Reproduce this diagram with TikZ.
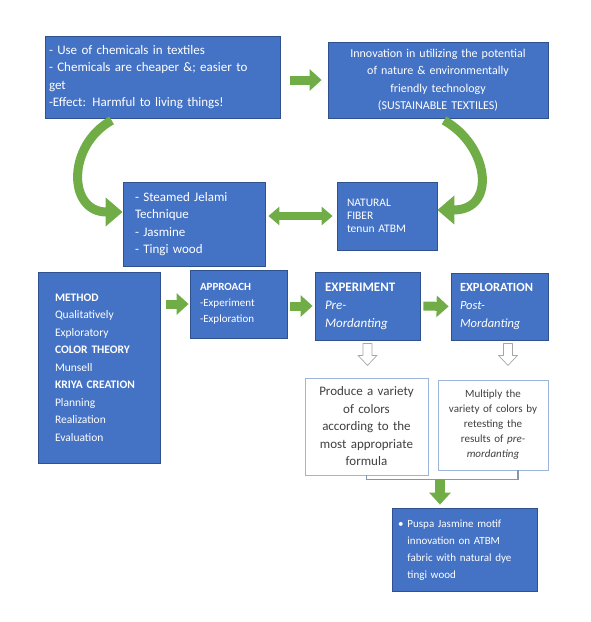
\documentclass[tikz,border=0pt]{standalone}
\usepackage{fontspec}
\setmainfont{Carlito}
\usetikzlibrary{arrows.meta,calc}
\definecolor{boxblue}{HTML}{4472C4}
\definecolor{boxedge}{HTML}{2F528F}
\definecolor{arrowgreen}{HTML}{70AD47}
\definecolor{paleedge}{HTML}{9DB5DC}
\definecolor{darktext}{HTML}{404040}
\definecolor{bracketline}{HTML}{8497B0}
\definecolor{hollowedge}{HTML}{A6A6A6}
\newcommand\hollowdown[1]{\draw[hollowedge, fill=white, line width=0.7pt, line join=round]
  (#1) ++(-4.5,0) -- ++(0,12) -- ++(-5,0) -- ++(9.5,10) -- ++(9.5,-10) -- ++(-5,0) -- ++(0,-12) -- cycle;}

\begin{document}
\begin{tikzpicture}[x=1pt,y=-1pt,
  bluebox/.style={draw=boxedge, fill=boxblue, text=white, line width=0.8pt, inner ysep=0pt, align=left, font=\fontsize{13}{17.5}\selectfont},
  whitebox/.style={draw=paleedge, fill=white, text=darktext, line width=0.8pt, inner ysep=0pt, align=center, font=\fontsize{13}{17.5}\selectfont},
  greenarrow/.style={draw=arrowgreen, line width=9pt, -{Triangle[length=12pt,width=21pt]}},
  curvearrow/.style={draw=arrowgreen, line width=9pt, -{Triangle[length=17pt,width=28pt]}},
  bothways/.style={draw=arrowgreen, line width=8pt, {Triangle[length=11pt,width=18pt]}-{Triangle[length=11pt,width=18pt]}},
  bracket/.style={draw=bracketline, line width=1.2pt}]
\useasboundingbox (0,0) rectangle (591,622);
% top row
\node[bluebox, minimum width=235pt, minimum height=82pt, inner xsep=4pt, text width=227pt] (chem) at (162.5,77)
  {- Use of chemicals in textiles\\- Chemicals are cheaper \&; easier to\\get\\-Effect: Harmful to living things!};
\node[bluebox, align=center, minimum width=220pt, minimum height=76pt, inner xsep=4pt, text width=212pt, font=\fontsize{12}{17.5}\selectfont] (innov) at (438,80)
  {Innovation in utilizing the potential\\of nature \& environmentally\\friendly technology\\(SUSTAINABLE TEXTILES)};
% second row
\node[bluebox, minimum width=142pt, minimum height=84pt, inner xsep=12pt, text width=118pt] (steam) at (194,224)
  {- Steamed Jelami\\Technique\\- Jasmine\\- Tingi wood};
\node[bluebox, minimum width=100pt, minimum height=68pt, inner xsep=10pt, text width=80pt, font=\fontsize{11.5}{13}\selectfont] (fiber) at (387,216)
  {NATURAL\\FIBER\\tenun ATBM};
% third row
\node[bluebox, minimum width=122pt, minimum height=191pt, inner xsep=17pt, text width=88pt, font=\fontsize{11.5}{17.5}\selectfont] (method) at (99,367.5)
  {\textbf{METHOD}\\Qualitatively\\Exploratory\\\textbf{COLOR THEORY}\\Munsell\\\textbf{KRIYA CREATION}\\Planning\\Realization\\Evaluation};
\node[bluebox, minimum width=97pt, minimum height=68pt, inner xsep=10pt, text width=77pt, font=\fontsize{11}{16}\selectfont] (approach) at (238.5,304)
  {\textbf{APPROACH}\\-Experiment\\-Exploration};
\node[bluebox, minimum width=105pt, minimum height=68pt, inner xsep=10pt, text width=85pt, font=\fontsize{13}{18}\selectfont] (experiment) at (367.5,306)
  {\textbf{EXPERIMENT}\\\textit{Pre-}\\\textit{Mordanting}};
\node[bluebox, minimum width=97pt, minimum height=67pt, inner xsep=9pt, text width=79pt, font=\fontsize{12.5}{18}\selectfont] (explore) at (499.5,306.5)
  {\textbf{EXPLORATION}\\\textit{Post-}\\\textit{Mordanting}};
% results
\node[whitebox, minimum width=123pt, minimum height=97pt, inner xsep=4pt, text width=115pt] (produce) at (366.5,426.5)
  {Produce a variety\\of colors\\according to the\\most appropriate\\formula};
\node[whitebox, minimum width=110pt, minimum height=90pt, inner xsep=3pt, text width=104pt, font=\fontsize{11}{15}\selectfont] (multiply) at (493,425)
  {Multiply the\\variety of colors by\\retesting the\\results of \textit{pre-}\\\textit{mordanting}};
\node[bluebox, minimum width=145pt, minimum height=83pt, inner xsep=6pt, text width=133pt, font=\fontsize{11}{17}\selectfont] (motif) at (464.5,549.5)
  {\begin{tabular}{@{}l@{\hspace{4pt}}l@{}}\textbullet & Puspa Jasmine motif\\ & innovation on ATBM\\ & fabric with natural dye\\ & tingi wood\end{tabular}};
% connectors
\draw[greenarrow, shorten <=10pt, shorten >=6pt] (chem.east |- innov.west) -- (innov.west);
\draw[curvearrow] ([xshift=67pt,yshift=-2pt]chem.south west) .. controls +(-45,25) and +(-55,0) .. ([yshift=12pt]steam.west);
\draw[curvearrow] ([xshift=6pt,yshift=-2pt]innov.south) .. controls +(45,25) and +(60,0) .. ([yshift=6pt]fiber.east);
\draw[bothways, shorten <=3pt, shorten >=4pt] (steam.east |- fiber.west) -- (fiber.west);
\draw[greenarrow, shorten <=6pt, shorten >=1pt] (approach.west -| method.east) -- (approach.west);
\draw[greenarrow, shorten <=3pt, shorten >=2pt] (approach.east |- experiment.west) -- (experiment.west);
\draw[greenarrow, shorten <=3pt, shorten >=2pt] (experiment.east) -- (explore.west);
\hollowdown{$(experiment.south)+(0,3)$}
\hollowdown{$(explore.south)+(8.5,3)$}
\draw[bracket] (produce.south) -- ++(0,4) -| ([xshift=25pt]multiply.south);
\coordinate (join) at (440,479);
\draw[greenarrow, line width=10pt, shorten >=3pt] (join) -- (join |- motif.north);
\end{tikzpicture}
\end{document}
